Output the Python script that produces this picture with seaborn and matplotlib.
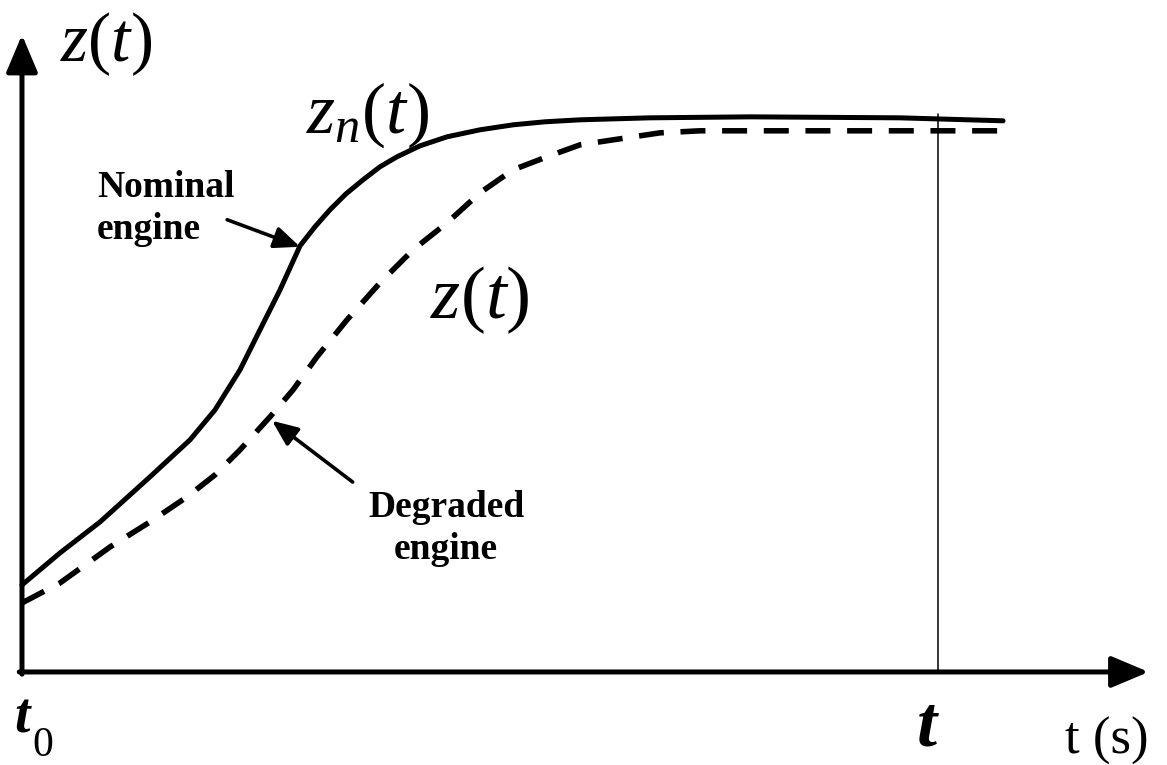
import matplotlib
matplotlib.use("Agg")
import matplotlib.pyplot as plt
import seaborn as sns
import pandas as pd

# --- data ---
t_nominal = [0.000, 0.415, 0.852, 1.397, 1.834, 2.107, 2.380, 2.598, 2.817, 3.035, 3.198, 3.362,
             3.537, 3.723, 3.908, 4.094, 4.345, 4.640, 5.000, 5.360, 5.709, 6.092, 6.856, 7.948,
             9.585, 10.710]
z_nominal = [15.76, 21.56, 27.17, 35.33, 42.03, 47.46, 54.71, 61.96, 69.20, 77.17, 80.62, 83.70,
             86.59, 89.13, 91.49, 93.30, 95.29, 96.92, 98.19, 99.09, 99.64, 100.00, 100.36, 100.54,
             100.36, 99.82]
t_degraded = [0.000, 0.415, 0.961, 1.397, 1.801, 2.107, 2.380, 2.707, 2.959, 3.220, 3.548, 3.908,
              4.269, 4.640, 5.000, 5.360, 5.731, 6.092, 6.528, 6.965, 7.402, 9.039, 10.710]
z_degraded = [12.50, 16.12, 22.64, 27.17, 31.70, 35.69, 40.22, 46.20, 51.09, 57.07, 63.77, 70.47,
              76.45, 81.34, 86.78, 90.94, 93.30, 95.47, 96.56, 97.64, 98.01, 98.01, 98.01]
t_end = 10.0

df_n = pd.DataFrame({"t": t_nominal, "z": z_nominal})
df_d = pd.DataFrame({"t": t_degraded, "z": z_degraded})

sns.set_theme(style="white")
plt.rcParams["font.family"] = ["Liberation Serif", "DejaVu Serif"]
plt.rcParams["text.color"] = "black"
plt.rcParams["mathtext.fontset"] = "custom"
plt.rcParams["mathtext.rm"] = "Liberation Serif"
plt.rcParams["mathtext.it"] = "Liberation Serif:italic"
plt.rcParams["mathtext.bf"] = "Liberation Serif:bold"

fig = plt.figure(figsize=(11.67, 7.65), dpi=100)
ax = fig.add_axes([0, 0, 1, 1])
ax.set_xlim(-0.240, 12.50)
ax.set_ylim(-16.85, 121.7)
ax.axis("off")

sns.lineplot(data=df_n, x="t", y="z", ax=ax, color="black", lw=3.6, sort=False)
sns.lineplot(data=df_d, x="t", y="z", ax=ax, color="black", lw=4.0, sort=False)
ax.lines[-1].set_dashes((4.5, 3.0))
ax.lines[-1].set_dash_capstyle("butt")
ax.lines[0].set_solid_joinstyle("round")

# axes arrows
arrow_style = "-|>,head_length=1.9,head_width=0.8"
ax.annotate("", xy=(12.30, 0), xytext=(-0.03, 0),
            arrowprops=dict(arrowstyle=arrow_style, lw=3.6, color="black", shrinkA=0, shrinkB=0))
ax.annotate("", xy=(0, 115.4), xytext=(0, -0.4),
            arrowprops=dict(arrowstyle=arrow_style, lw=3.6, color="black", shrinkA=0, shrinkB=0))

# vertical line at final time
ax.plot([t_end, t_end], [0, 101.0], color="black", lw=1.1)

# labels
ax.text(0.917, 113.8, "$z(t)$", fontsize=50, ha="center", va="center")
ax.text(3.77, 100.9, "$z_n(t)$", fontsize=52, ha="center", va="center")
ax.text(5.00, 67.4, "$z(t)$", fontsize=54, ha="center", va="center")

ax.text(0.00, -8.4, "t", fontsize=40, fontstyle="italic", fontweight="bold", ha="center", va="center")
ax.text(0.23, -13.4, "0", fontsize=30, ha="center", va="center")
ax.text(9.88, -10.2, "t", fontsize=52, fontstyle="italic", fontweight="bold", ha="center", va="center")
ax.text(11.84, -12.5, "t (s)", fontsize=38, ha="center", va="center")

ax.text(0.82, 84.0, "Nominal\nengine", fontsize=27, fontweight="bold", ha="left", va="center",
        linespacing=1.25)
ax.text(4.63, 26.0, "Degraded\nengine", fontsize=27, fontweight="bold", ha="center", va="center",
        linespacing=1.25)

ax.annotate("", xy=(3.035, 77.0), xytext=(2.24, 81.9),
            arrowprops=dict(arrowstyle="-|>,head_length=1.3,head_width=0.55", lw=2.6,
                            color="black", shrinkA=0, shrinkB=0))
ax.annotate("", xy=(2.73, 45.5), xytext=(3.61, 34.4),
            arrowprops=dict(arrowstyle="-|>,head_length=1.3,head_width=0.55", lw=2.6,
                            color="black", shrinkA=0, shrinkB=0))

fig.savefig("out.png", dpi=100, facecolor="white")
